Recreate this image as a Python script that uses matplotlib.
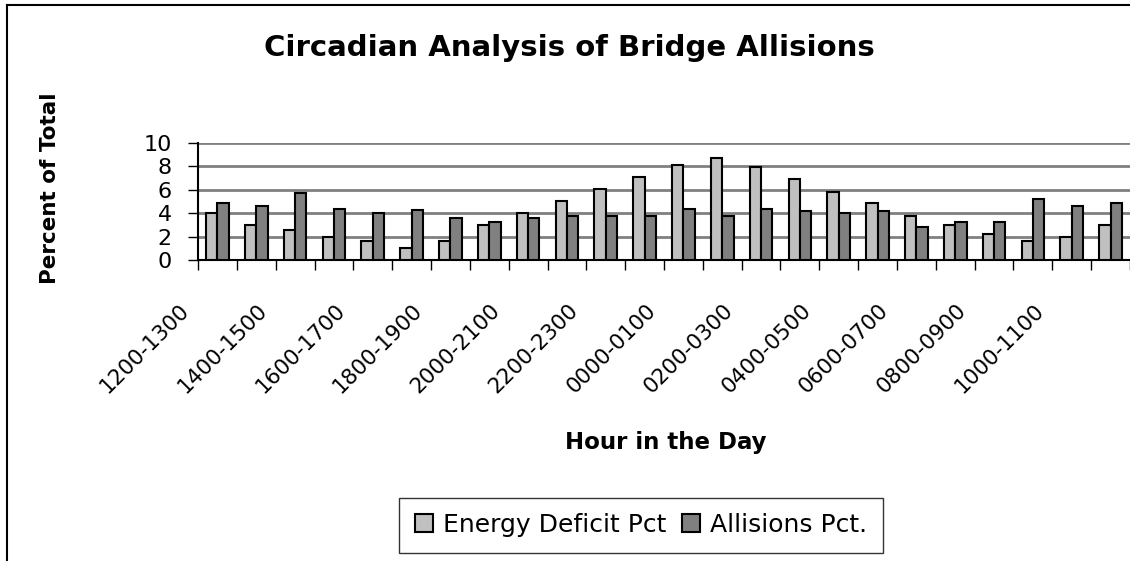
import numpy as np
import matplotlib
matplotlib.use("Agg")
import matplotlib.pyplot as plt
from matplotlib.lines import Line2D
from matplotlib.patches import Patch
from matplotlib.transforms import blended_transform_factory, ScaledTranslation

# Hour bins (24), only every other one gets a label in the chart
hours = ["1200-1300", "1300-1400", "1400-1500", "1500-1600", "1600-1700", "1700-1800",
         "1800-1900", "1900-2000", "2000-2100", "2100-2200", "2200-2300", "2300-0000",
         "0000-0100", "0100-0200", "0200-0300", "0300-0400", "0400-0500", "0500-0600",
         "0600-0700", "0700-0800", "0800-0900", "0900-1000", "1000-1100", "1100-1200"]

energy_pct = [4.0, 3.0, 2.6, 2.0, 1.6, 1.0, 1.6, 3.0, 4.0, 5.0, 6.1, 7.1,
              8.1, 8.7, 7.95, 6.9, 5.85, 4.85, 3.8, 3.0, 2.2, 1.6, 2.0, 3.0]
allision_pct = [4.85, 4.65, 5.7, 4.4, 4.0, 4.25, 3.6, 3.25, 3.6, 3.8, 3.8, 3.8,
                4.4, 3.8, 4.4, 4.2, 4.0, 4.2, 2.8, 3.25, 3.25, 5.25, 4.65, 4.85]

yticks = [0, 2, 4, 6, 8, 10]

plt.rcParams['font.family'] = ['DejaVu Sans']

fig = plt.figure(figsize=(11.3, 5.61), dpi=100)
ax = fig.add_axes([198/1130, 1 - 260/561, 1 - 198/1130, (260 - 143)/561])

x = np.arange(len(hours))
w = 0.29
ax.bar(x - w/2, energy_pct, w, color="#c0c0c0", edgecolor="black", linewidth=1.5, zorder=3)
ax.bar(x + w/2, allision_pct, w, color="#808080", edgecolor="black", linewidth=1.5, zorder=3)

ax.set_xlim(-0.5, 23.46)
ax.set_ylim(0, 10)
ax.set_yticks(yticks)
ax.set_yticklabels([str(t) for t in yticks], fontsize=16)
ax.yaxis.grid(True, color="#808080", linewidth=2, zorder=0)
ax.tick_params(axis="y", length=7, width=1, pad=12)

# ticks between categories, labels drawn separately
ax.set_xticks(np.arange(-0.5, 24, 1))
ax.set_xticklabels([])
ax.tick_params(axis="x", length=7, width=1, direction="out")

for s in ["top", "right"]:
    ax.spines[s].set_visible(False)
ax.spines["left"].set_linewidth(1.5)
ax.spines["bottom"].set_linewidth(1.5)

trans = blended_transform_factory(ax.transData, ax.transAxes)
off = ScaledTranslation(-0.38, -0.4, fig.dpi_scale_trans)
for i in range(0, len(hours), 2):
    ax.text(i, 0, hours[i], transform=trans + off, rotation=45,
            rotation_mode="anchor", ha="right", va="top", fontsize=15.5)

fig.text(0.504, 1 - 48/561, "Circadian Analysis of Bridge Allisions",
         ha="center", va="center", fontsize=21, fontweight="bold")
fig.text(50/1130, 1 - 188/561, "Percent of Total", rotation=90,
         ha="center", va="center", fontsize=15.5, fontweight="bold")
fig.text(666/1130, 1 - 443/561, "Hour in the Day",
         ha="center", va="center", fontsize=16.5, fontweight="bold")

handles = [Patch(facecolor="#c0c0c0", edgecolor="black", linewidth=1.5),
           Patch(facecolor="#808080", edgecolor="black", linewidth=1.5)]
leg = fig.legend(handles, ["Energy Deficit Pct", "Allisions Pct."],
                 loc="center", bbox_to_anchor=(641/1130, 1 - 525/561), ncol=2,
                 fontsize=18, frameon=True, fancybox=False, borderpad=0.62,
                 handlelength=0.72, handleheight=0.72, handletextpad=0.4,
                 columnspacing=0.65)
leg.get_frame().set_edgecolor("black")
leg.get_frame().set_linewidth(1)

# outer chart border (top and left only)
fig.add_artist(Line2D([7/1130, 1], [1 - 5/561, 1 - 5/561], color="black", linewidth=1.5))
fig.add_artist(Line2D([7/1130, 7/1130], [0, 1 - 5/561], color="black", linewidth=1.5))

fig.savefig("out.png", dpi=100)
